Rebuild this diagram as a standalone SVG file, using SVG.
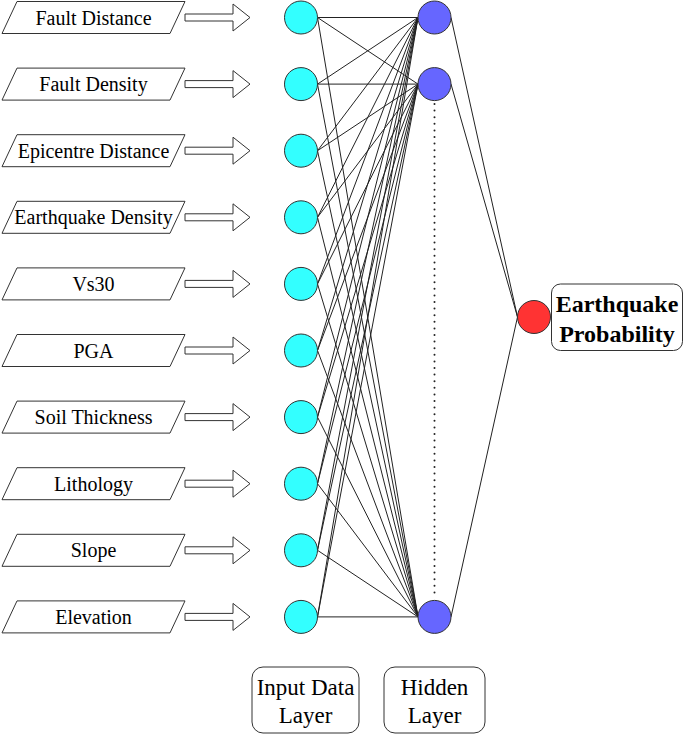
<svg xmlns="http://www.w3.org/2000/svg" width="685" height="735" viewBox="0 0 685 735">
<style>
.para{fill:#fff;stroke:#333;stroke-width:1}
.arr{fill:#fff;stroke:#333;stroke-width:1}
.in{fill:#33ffff;stroke:#333;stroke-width:1}
.hid{fill:#6666ff;stroke:#333;stroke-width:1}
.out{fill:#ff3333;stroke:#333;stroke-width:1}
text{font-family:'Liberation Serif','DejaVu Serif',serif;fill:#000;text-anchor:middle}
.lbl{font-size:20px}
.big{font-size:23px}
.bold{font-size:24px;font-weight:bold}
.box{fill:#fff;stroke:#333;stroke-width:1}
#connectors line{stroke:#222;stroke-width:1}
</style>
<defs>
<polygon id="para" class="para" points="17,-16 185,-16 170,16 2,16"/>
<polygon id="arrow" class="arr" points="185,-3.5 233,-3.5 233,-13.5 250,0 233,13.5 233,3.5 185,3.5"/>
</defs>
<g id="connectors">
<line x1="317.5" y1="17.5" x2="418" y2="17.5"/><line x1="317.5" y1="17.5" x2="418" y2="84.1"/><line x1="317.5" y1="17.5" x2="418" y2="616.9"/>
<line x1="317.5" y1="84.1" x2="418" y2="17.5"/><line x1="317.5" y1="84.1" x2="418" y2="84.1"/><line x1="317.5" y1="84.1" x2="418" y2="616.9"/>
<line x1="317.5" y1="150.7" x2="418" y2="17.5"/><line x1="317.5" y1="150.7" x2="418" y2="84.1"/><line x1="317.5" y1="150.7" x2="418" y2="616.9"/>
<line x1="317.5" y1="217.3" x2="418" y2="17.5"/><line x1="317.5" y1="217.3" x2="418" y2="84.1"/><line x1="317.5" y1="217.3" x2="418" y2="616.9"/>
<line x1="317.5" y1="283.9" x2="418" y2="17.5"/><line x1="317.5" y1="283.9" x2="418" y2="84.1"/><line x1="317.5" y1="283.9" x2="418" y2="616.9"/>
<line x1="317.5" y1="350.5" x2="418" y2="17.5"/><line x1="317.5" y1="350.5" x2="418" y2="84.1"/><line x1="317.5" y1="350.5" x2="418" y2="616.9"/>
<line x1="317.5" y1="417.1" x2="418" y2="17.5"/><line x1="317.5" y1="417.1" x2="418" y2="84.1"/><line x1="317.5" y1="417.1" x2="418" y2="616.9"/>
<line x1="317.5" y1="483.7" x2="418" y2="17.5"/><line x1="317.5" y1="483.7" x2="418" y2="84.1"/><line x1="317.5" y1="483.7" x2="418" y2="616.9"/>
<line x1="317.5" y1="550.3" x2="418" y2="17.5"/><line x1="317.5" y1="550.3" x2="418" y2="84.1"/><line x1="317.5" y1="550.3" x2="418" y2="616.9"/>
<line x1="317.5" y1="616.9" x2="418" y2="17.5"/><line x1="317.5" y1="616.9" x2="418" y2="84.1"/><line x1="317.5" y1="616.9" x2="418" y2="616.9"/>
<line x1="451" y1="17.5" x2="517.5" y2="317"/><line x1="451" y1="84.1" x2="517.5" y2="317"/><line x1="451" y1="616.9" x2="517.5" y2="317"/>
<line x1="434.5" y1="104" x2="434.5" y2="598" style="stroke:#222;stroke-width:2;stroke-dasharray:0 6.6;stroke-linecap:round"/>
</g>
<g id="input-labels">
<g id="lbl-fault-distance" transform="translate(0,17.5)"><use href="#para"/><use href="#arrow"/><text class="lbl" x="93.5" y="7" font-family="Liberation Serif">Fault Distance</text></g>
<g id="lbl-fault-density" transform="translate(0,84.1)"><use href="#para"/><use href="#arrow"/><text class="lbl" x="93.5" y="7">Fault Density</text></g>
<g id="lbl-epicentre" transform="translate(0,150.7)"><use href="#para"/><use href="#arrow"/><text class="lbl" x="93.5" y="7">Epicentre Distance</text></g>
<g id="lbl-eq-density" transform="translate(0,217.3)"><use href="#para"/><use href="#arrow"/><text class="lbl" x="93.5" y="7">Earthquake Density</text></g>
<g id="lbl-vs30" transform="translate(0,283.9)"><use href="#para"/><use href="#arrow"/><text class="lbl" x="93.5" y="7">Vs30</text></g>
<g id="lbl-pga" transform="translate(0,350.5)"><use href="#para"/><use href="#arrow"/><text class="lbl" x="93.5" y="7">PGA</text></g>
<g id="lbl-soil" transform="translate(0,417.1)"><use href="#para"/><use href="#arrow"/><text class="lbl" x="93.5" y="7">Soil Thickness</text></g>
<g id="lbl-lithology" transform="translate(0,483.7)"><use href="#para"/><use href="#arrow"/><text class="lbl" x="93.5" y="7">Lithology</text></g>
<g id="lbl-slope" transform="translate(0,550.3)"><use href="#para"/><use href="#arrow"/><text class="lbl" x="93.5" y="7">Slope</text></g>
<g id="lbl-elevation" transform="translate(0,616.9)"><use href="#para"/><use href="#arrow"/><text class="lbl" x="93.5" y="7">Elevation</text></g>
</g>
<g id="input-nodes">
<circle id="in1" class="in" cx="301" cy="17.5" r="16.5"/>
<circle id="in2" class="in" cx="301" cy="84.1" r="16.5"/>
<circle id="in3" class="in" cx="301" cy="150.7" r="16.5"/>
<circle id="in4" class="in" cx="301" cy="217.3" r="16.5"/>
<circle id="in5" class="in" cx="301" cy="283.9" r="16.5"/>
<circle id="in6" class="in" cx="301" cy="350.5" r="16.5"/>
<circle id="in7" class="in" cx="301" cy="417.1" r="16.5"/>
<circle id="in8" class="in" cx="301" cy="483.7" r="16.5"/>
<circle id="in9" class="in" cx="301" cy="550.3" r="16.5"/>
<circle id="in10" class="in" cx="301" cy="616.9" r="16.5"/>
</g>
<g id="hidden-nodes">
<circle id="h1" class="hid" cx="434.5" cy="17.5" r="16.5"/>
<circle id="h2" class="hid" cx="434.5" cy="84.1" r="16.5"/>
<circle id="h3" class="hid" cx="434.5" cy="616.9" r="16.5"/>
</g>
<g id="output-node">
<circle class="out" cx="534" cy="317" r="16.5"/>
<rect class="box" x="551.5" y="284" width="131" height="66.5" rx="9"/>
<text class="bold" x="617" y="312">Earthquake</text>
<text class="bold" x="617" y="342">Probability</text>
</g>
<g id="input-layer-label">
<rect class="box" x="252" y="667" width="107" height="66" rx="11"/>
<text class="big" x="305.5" y="695">Input Data</text>
<text class="big" x="305.5" y="723">Layer</text>
</g>
<g id="hidden-layer-label">
<rect class="box" x="384" y="667" width="101" height="66" rx="11"/>
<text class="big" x="434.5" y="695">Hidden</text>
<text class="big" x="434.5" y="723">Layer</text>
</g>
</svg>
